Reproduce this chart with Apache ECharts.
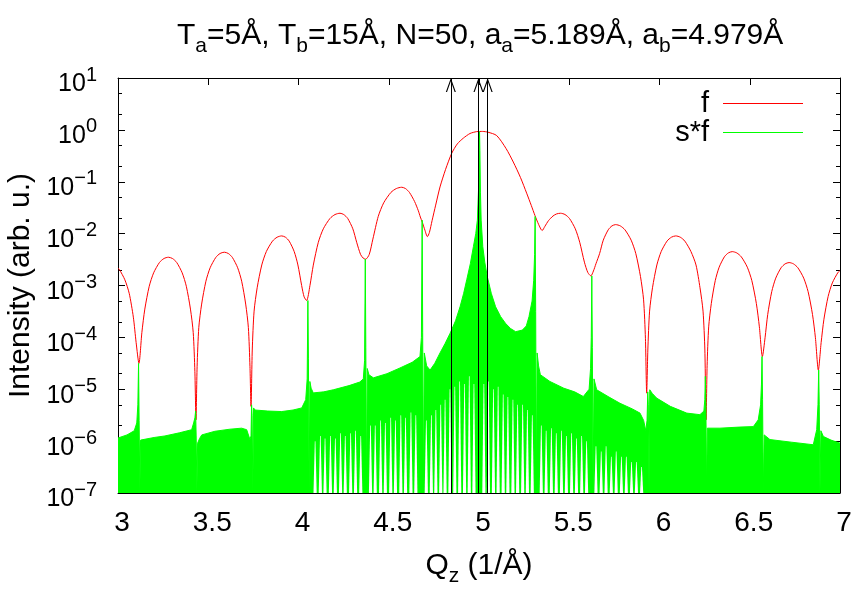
<!DOCTYPE html>
<html><head><meta charset="utf-8">
<script src="https://cdn.jsdelivr.net/npm/echarts@6/dist/echarts.min.js"></script>
<style>html,body{margin:0;padding:0;background:#fff}#c{width:862px;height:593px}</style>
</head><body><div id="c"></div>
<script>
const FONT = '"Liberation Sans", Arial, Helvetica, sans-serif';
const xTicks = [3, 3.5, 4, 4.5, 5, 5.5, 6, 6.5, 7];
const yDecades = [-7, -6, -5, -4, -3, -2, -1, 0, 1];
const arrowQ = [4.844, 4.997, 5.048];
const seriesNames = ['f', 's*f'];

// f : [Qz, log10(intensity)]
const fCurve = [
[3.000,-2.667],[3.0075,-2.69],[3.038,-2.89],[3.062,-3.15],[3.085,-3.61],[3.1005,-4.10],[3.116,-4.50],
[3.1323,-3.905],[3.1486,-3.455],[3.173,-3.015],[3.1975,-2.755],[3.230,-2.555],[3.2546,-2.48],[3.279,-2.455],
[3.302,-2.48],[3.325,-2.555],[3.3555,-2.755],[3.3785,-3.015],[3.4014,-3.455],[3.4167,-3.905],[3.4259,-4.655],[3.432,-5.59],
[3.4383,-4.558],[3.4477,-3.808],[3.4634,-3.358],[3.487,-2.918],[3.5105,-2.658],[3.542,-2.458],[3.5654,-2.383],[3.589,-2.358],
[3.6112,-2.383],[3.6334,-2.458],[3.663,-2.658],[3.6852,-2.918],[3.7074,-3.358],[3.7222,-3.808],[3.7311,-4.558],[3.737,-5.33],
[3.7438,-4.244],[3.754,-3.494],[3.771,-3.044],[3.7965,-2.604],[3.822,-2.344],[3.856,-2.144],[3.8815,-2.069],[3.907,-2.044],
[3.9277,-2.069],[3.9484,-2.144],[3.976,-2.344],[3.9967,-2.604],[4.0174,-3.00],[4.0312,-3.22],[4.045,-3.29],
[4.0635,-3.00],[4.082,-2.607],[4.1098,-2.167],[4.1375,-1.907],[4.1745,-1.707],[4.2023,-1.632],[4.230,-1.607],
[4.2507,-1.632],[4.2726,-1.707],[4.301,-1.907],[4.3223,-2.167],[4.3436,-2.40],[4.3578,-2.47],[4.372,-2.493],
[4.392,-2.40],[4.412,-2.106],[4.442,-1.666],[4.472,-1.406],[4.512,-1.206],[4.542,-1.131],[4.572,-1.106],
[4.5927,-1.131],[4.6146,-1.206],[4.643,-1.38],[4.664,-1.56],[4.675,-1.68],[4.686,-1.78],[4.700,-1.93],[4.714,-2.058],
[4.725,-1.98],[4.740,-1.75],[4.760,-1.45],[4.784,-1.10],[4.815,-0.76],[4.849,-0.45],[4.880,-0.27],[4.913,-0.16],
[4.950,-0.07],[4.987,-0.034],[5.020,-0.03],[5.050,-0.045],[5.098,-0.11],[5.150,-0.36],[5.190,-0.62],[5.230,-0.92],
[5.264,-1.22],[5.290,-1.46],[5.310,-1.65],[5.330,-1.82],[5.350,-1.94],
[5.365,-1.86],[5.385,-1.75],[5.410,-1.66],[5.430,-1.62],[5.452,-1.607],
[5.4765,-1.632],[5.501,-1.707],[5.5335,-1.907],[5.558,-2.167],[5.584,-2.55],[5.603,-2.75],[5.620,-2.815],
[5.634,-2.72],[5.648,-2.58],[5.668,-2.386],[5.6885,-2.126],[5.716,-1.926],[5.7365,-1.851],[5.757,-1.826],
[5.7828,-1.851],[5.8086,-1.926],[5.843,-2.126],[5.8688,-2.386],[5.8946,-2.826],[5.9118,-3.276],[5.9221,-4.026],[5.929,-5.075],
[5.9354,-4.244],[5.9451,-3.494],[5.9612,-3.044],[5.9854,-2.604],[6.0095,-2.344],[6.0417,-2.144],[6.0659,-2.069],[6.090,-2.044],
[6.1152,-2.069],[6.1404,-2.144],[6.174,-2.344],[6.2022,-2.604],[6.2244,-3.044],[6.2412,-3.494],[6.2513,-4.244],[6.258,-5.59],
[6.2638,-4.547],[6.2725,-3.797],[6.287,-3.347],[6.3088,-2.907],[6.3305,-2.647],[6.3595,-2.447],[6.3813,-2.372],[6.403,-2.347],
[6.4281,-2.372],[6.4531,-2.447],[6.4865,-2.647],[6.5116,-2.907],[6.5366,-3.347],[6.5533,-3.797],[6.570,-4.37],
[6.5848,-4.008],[6.5996,-3.558],[6.6218,-3.118],[6.644,-2.858],[6.6736,-2.658],[6.6958,-2.583],[6.718,-2.558],
[6.7423,-2.583],[6.7666,-2.658],[6.799,-2.858],[6.8233,-3.118],[6.8476,-3.558],[6.8638,-4.008],[6.880,-4.63],
[6.8955,-4.10],[6.911,-3.65],[6.9343,-3.21],[6.9575,-2.95],[6.9885,-2.75],[7.000,-2.713]
];

// s*f : upper edge of the dense fringe pattern, [Qz, log10(intensity)]
const sfCurve = [
[3.000,-5.94],[3.050,-5.88],[3.090,-5.80],[3.104,-5.65],[3.110,-5.30],[3.114,-4.50],[3.117,-5.6],[3.121,-7],[3.125,-5.98],
[3.131,-5.97],[3.200,-5.93],[3.260,-5.90],[3.340,-5.84],[3.408,-5.78],[3.419,-5.65],[3.426,-5.55],[3.430,-5.42],[3.433,-5.9],
[3.437,-7],[3.441,-6.04],[3.452,-5.95],[3.464,-5.88],[3.537,-5.81],[3.620,-5.77],[3.685,-5.75],[3.713,-5.78],[3.731,-5.97],
[3.737,-5.9],[3.740,-5.30],[3.743,-5.5],[3.747,-7],[3.751,-5.36],[3.759,-5.40],[3.830,-5.42],[3.907,-5.43],[3.970,-5.40],
[4.018,-5.36],[4.040,-5.20],[4.048,-4.8],[4.052,-3.29],[4.055,-4.4],[4.059,-7],[4.063,-4.85],[4.070,-4.98],[4.082,-5.07],
[4.140,-5.05],[4.193,-5.01],[4.280,-4.93],[4.340,-4.86],[4.359,-4.80],[4.366,-4.45],[4.370,-2.49],[4.373,-4.2],[4.377,-7],
[4.381,-4.6],[4.390,-4.72],[4.415,-4.78],[4.490,-4.70],[4.562,-4.59],[4.630,-4.48],[4.673,-4.37],[4.681,-4.0],[4.685,-1.74],
[4.688,-3.9],[4.692,-7],[4.697,-4.3],[4.710,-4.55],[4.729,-4.63],[4.755,-4.50],[4.784,-4.30],[4.812,-4.12],[4.840,-3.92],
[4.870,-3.68],[4.895,-3.41],[4.915,-3.15],[4.932,-2.89],[4.952,-2.58],[4.969,-2.25],[4.982,-2.00],[4.991,-1.74],[4.998,-1.10],
[5.001,-0.40],[5.003,-0.035],[5.005,-0.40],[5.008,-1.20],[5.012,-1.74],[5.021,-2.25],[5.032,-2.55],[5.046,-2.83],[5.068,-3.15],
[5.092,-3.41],[5.120,-3.60],
[5.147,-3.73],[5.175,-3.83],[5.203,-3.89],[5.240,-3.86],[5.262,-3.78],[5.277,-3.60],[5.294,-3.30],[5.303,-2.9],[5.308,-2.4],
[5.311,-1.67],[5.314,-3.5],[5.318,-7],[5.322,-4.3],[5.330,-4.55],[5.340,-4.72],[5.393,-4.85],[5.470,-4.98],[5.530,-5.05],
[5.578,-5.14],[5.610,-5.0],[5.618,-4.6],[5.622,-4.0],[5.625,-2.815],[5.628,-4.2],[5.632,-7],[5.637,-4.8],[5.652,-5.01],
[5.720,-5.15],[5.781,-5.27],[5.850,-5.38],[5.892,-5.46],[5.912,-5.60],[5.924,-5.80],[5.931,-5.6],[5.935,-5.05],[5.938,-5.3],
[5.942,-7],[5.946,-5.01],[5.960,-5.08],[5.984,-5.17],[6.060,-5.33],[6.151,-5.46],[6.224,-5.49],[6.246,-5.42],[6.251,-5.2],
[6.254,-4.75],[6.257,-5.3],[6.261,-7],[6.265,-5.75],[6.270,-5.78],[6.335,-5.75],[6.440,-5.73],[6.520,-5.72],[6.547,-5.59],
[6.560,-5.3],[6.565,-4.9],[6.568,-4.37],[6.571,-5.2],[6.575,-7],[6.580,-5.88],[6.584,-5.91],[6.612,-5.97],[6.730,-6.02],
[6.852,-6.07],[6.871,-5.78],[6.878,-5.3],[6.882,-4.63],[6.885,-5.3],[6.889,-7],[6.894,-5.8],[6.908,-5.91],[6.950,-5.98],
[7.000,-6.04]
];

// white gaps in the fringe pattern: [Qz, log10(height where the gap starts)]
const gapsLeft = [
[4.092,-6.0],[4.121,-5.9],[4.147,-5.95],[4.177,-5.9],[4.204,-5.95],[4.233,-5.85],[4.259,-5.9],[4.289,-5.85],[4.316,-5.8],[4.345,-5.9],
[4.399,-5.7],[4.425,-5.7],[4.455,-5.6],[4.481,-5.65],[4.511,-5.55],[4.537,-5.6],[4.567,-5.5],[4.593,-5.55],[4.623,-5.45],[4.650,-5.5],[4.708,-5.6]
];
const gapsCenter = [
[4.736,-5.5],[4.761,-5.4],[4.788,-5.3],[4.812,-5.2],[4.839,-5.0],[4.866,-4.95],[4.893,-4.85],[4.920,-4.9],[4.946,-4.75],[4.972,-4.9],
[5.027,-4.9],[5.052,-4.85],[5.080,-5.0],[5.106,-4.95],[5.134,-5.1],[5.160,-5.15],[5.188,-5.2],[5.214,-5.3],[5.242,-5.3],[5.268,-5.4],[5.295,-5.5]
];
const gapsRight = [
[5.345,-5.7],[5.372,-5.8],[5.401,-5.75],[5.428,-5.85],[5.457,-5.8],[5.484,-5.9],[5.513,-5.85],[5.540,-5.95],[5.569,-5.9],[5.596,-6.0],
[5.648,-6.1],[5.677,-6.2],[5.704,-6.1],[5.733,-6.3],[5.760,-6.2],[5.789,-6.3],[5.816,-6.3],[5.845,-6.4],[5.872,-6.4],[5.901,-6.5]
];

const toData = arr => arr.map(p => [p[0], Math.pow(10, p[1])]);
const yMin = Math.pow(10, yDecades[0]);
const yMax = Math.pow(10, yDecades[yDecades.length - 1]);
const minorVals = [];
yDecades.slice(0, -1).forEach(e => { minorVals.push(2 * Math.pow(10, e), 5 * Math.pow(10, e)); });
const gapData = toData(gapsLeft.concat(gapsCenter, gapsRight));

const titleRich = {
  b: {fontFamily: FONT, fontSize: 30, fontWeight: 'normal', color: '#000', lineHeight: 30, verticalAlign: 'top'},
  s: {fontFamily: FONT, fontSize: 21, fontWeight: 'normal', color: '#000', lineHeight: 36, verticalAlign: 'bottom'}
};
const supRich = {
  b: {fontFamily: FONT, fontSize: 25, color: '#000', lineHeight: 26, padding: [7, 0, 0, 0], verticalAlign: 'top'},
  s: {fontFamily: FONT, fontSize: 20, color: '#000', lineHeight: 25, verticalAlign: 'top'}
};
const chevron = 'path://M0,14 L5,0 L10,14 L8.8,14 L5,3.2 L1.2,14 Z';

const baseX = {
  type: 'value', min: xTicks[0], max: xTicks[xTicks.length - 1], interval: xTicks[1] - xTicks[0],
  axisLine: {show: true, onZero: false, lineStyle: {color: '#000', width: 1}},
  axisTick: {show: true, inside: true, length: 7, lineStyle: {color: '#000', width: 1}},
  splitLine: {show: false}
};
const baseY = {
  type: 'log', logBase: 10, min: yMin, max: yMax, splitNumber: yDecades.length - 1,
  axisLine: {show: true, onZero: false, lineStyle: {color: '#000', width: 1}},
  axisTick: {show: true, inside: true, length: 7, lineStyle: {color: '#000', width: 1}},
  splitLine: {show: false}, minorTick: {show: false}
};

const chart = echarts.init(document.getElementById('c'), null, {renderer: 'canvas'});
chart.setOption({
  animation: false,
  backgroundColor: '#fff',
  title: {
    text: '{b|T}{s|a}{b|=5Å, T}{s|b}{b|=15Å, N=50, a}{s|a}{b|=5.189Å, a}{s|b}{b|=4.979Å}',
    left: 172, top: 16,
    textStyle: {fontWeight: 'normal', rich: titleRich}
  },
  grid: {left: 118, right: 22, top: 78, bottom: 100, containLabel: false, outerBoundsMode: 'none'},
  legend: {
    data: seriesNames.map(n => ({name: n, icon: 'rect'})),
    orient: 'vertical', right: 54, top: 84, align: 'right',
    itemWidth: 80, itemHeight: 1, itemGap: 0,
    textStyle: {fontFamily: FONT, fontSize: 29, color: '#000', padding: [0, 9, 0, 0]}
  },
  xAxis: [
    Object.assign({}, baseX, {
      position: 'bottom',
      axisLabel: {fontFamily: FONT, fontSize: 28, color: '#000', margin: 16, padding: [0, 0, 0, 8]},
      name: '{b|Q}{s|z}{b| (1/Å)}', nameLocation: 'middle', nameGap: 58,
      nameTextStyle: {rich: titleRich}
    }),
    Object.assign({}, baseX, {position: 'top', axisLabel: {show: false}})
  ],
  yAxis: [
    Object.assign({}, baseY, {
      position: 'left',
      axisLabel: {
        margin: 21,
        formatter: v => { const e = Math.round(Math.log10(v)); return '{b|10}{s|' + (e < 0 ? '\u2212' + (-e) : e) + '}'; },
        rich: supRich
      },
      name: 'Intensity (arb. u.)', nameLocation: 'middle', nameGap: 81,
      nameTextStyle: {fontFamily: FONT, fontSize: 30, color: '#000'}
    }),
    Object.assign({}, baseY, {position: 'right', axisLabel: {show: false}}),
    Object.assign({}, baseY, {position: 'left', axisLine: {show: false}, axisLabel: {show: false},
      axisTick: {show: true, inside: true, length: 4, customValues: minorVals, lineStyle: {color: '#000', width: 1}}}),
    Object.assign({}, baseY, {position: 'right', axisLine: {show: false}, axisLabel: {show: false},
      axisTick: {show: true, inside: true, length: 4, customValues: minorVals, lineStyle: {color: '#000', width: 1}}})
  ],
  series: [
    {
      name: seriesNames[0], type: 'line', data: toData(fCurve), xAxisIndex: 0, yAxisIndex: 0,
      symbol: 'none', showSymbol: false, smooth: 0.25,
      lineStyle: {color: '#ff0000', width: 1}, itemStyle: {color: '#ff0000'}, z: 2
    },
    {
      name: seriesNames[1], type: 'line', data: toData(sfCurve), xAxisIndex: 0, yAxisIndex: 0,
      symbol: 'none', showSymbol: false,
      lineStyle: {color: '#00ff00', width: 1}, itemStyle: {color: '#00ff00'},
      areaStyle: {color: '#00ff00', opacity: 1, origin: 'start'}, z: 3,
      markLine: {
        silent: true, animation: false, z: 10,
        symbol: ['none', chevron], symbolSize: [10, 14], symbolOffset: [[0, 0], [0, 7]],
        label: {show: false},
        lineStyle: {color: '#000', width: 1, type: 'solid'},
        emphasis: {disabled: true},
        data: arrowQ.map(q => [{coord: [q, yMin]}, {coord: [q, yMax]}])
      }
    },
    {
      name: 'gaps', type: 'custom', data: gapData, xAxisIndex: 0, yAxisIndex: 0, z: 4, silent: true, clip: true,
      renderItem: (params, api) => {
        const top = api.coord([api.value(0), api.value(1)]);
        const bot = api.coord([api.value(0), yMin]);
        return {type: 'polygon', shape: {points: [[top[0] - 0.3, top[1]], [top[0] + 0.3, top[1]], [bot[0] + 1.6, bot[1]], [bot[0] - 1.6, bot[1]]]},
          style: {fill: '#ffffff'}};
      }
    }
  ]
});
</script>
</body></html>
